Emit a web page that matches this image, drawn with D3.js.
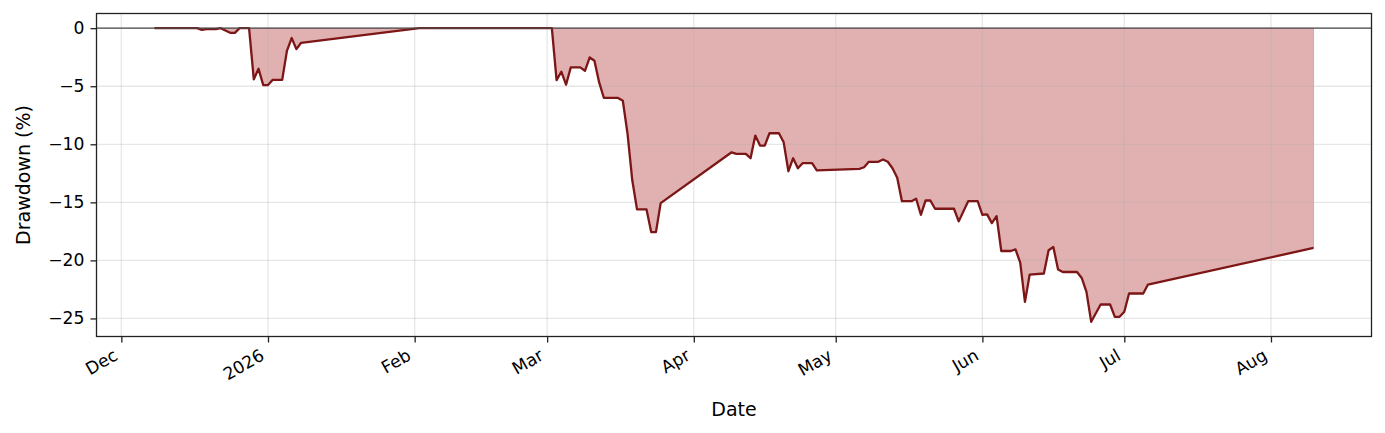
<!DOCTYPE html>
<html>
<head>
<meta charset="utf-8">
<script src="https://cdn.jsdelivr.net/npm/d3@7"></script>
<style>
body { margin: 0; background: #fff; }
text { font-family: "DejaVu Sans", sans-serif; fill: #000; }
</style>
</head>
<body>
<script>
// drawdown series
const dates = [
  "2025-12-08","2025-12-17","2025-12-18","2025-12-19","2025-12-21","2025-12-22","2025-12-24","2025-12-25","2025-12-26","2025-12-28",
  "2025-12-29","2025-12-30","2025-12-31","2026-01-01","2026-01-02","2026-01-04","2026-01-05","2026-01-06","2026-01-07","2026-01-08",
  "2026-02-02","2026-03-02","2026-03-03","2026-03-04","2026-03-05","2026-03-06","2026-03-08","2026-03-09","2026-03-10","2026-03-11",
  "2026-03-12","2026-03-13","2026-03-16","2026-03-17","2026-03-18","2026-03-19","2026-03-20","2026-03-22","2026-03-23","2026-03-24",
  "2026-03-25","2026-04-09","2026-04-10","2026-04-12","2026-04-13","2026-04-14","2026-04-15","2026-04-16","2026-04-17","2026-04-19",
  "2026-04-20","2026-04-21","2026-04-22","2026-04-23","2026-04-24","2026-04-26","2026-04-27","2026-05-06","2026-05-07","2026-05-08",
  "2026-05-10","2026-05-11","2026-05-12","2026-05-13","2026-05-14","2026-05-15","2026-05-17","2026-05-18","2026-05-19","2026-05-20",
  "2026-05-21","2026-05-22","2026-05-26","2026-05-27","2026-05-29","2026-05-31","2026-06-01","2026-06-02","2026-06-03","2026-06-04",
  "2026-06-05","2026-06-07","2026-06-08","2026-06-09","2026-06-10","2026-06-11","2026-06-14","2026-06-15","2026-06-16","2026-06-17",
  "2026-06-18","2026-06-21","2026-06-22","2026-06-23","2026-06-24","2026-06-26","2026-06-28","2026-06-29","2026-06-30","2026-07-01",
  "2026-07-02","2026-07-05","2026-07-06","2026-08-10"
];
const drawdown = [
  0, 0, -0.15, -0.08, -0.08, 0, -0.4, -0.4, 0, 0,
  -4.4, -3.5, -4.9, -4.9, -4.45, -4.45, -1.95, -0.85, -1.8, -1.26,
  0, 0, -4.47, -3.75, -4.87, -3.38, -3.38, -3.67, -2.52, -2.81,
  -4.67, -6.01, -6.01, -6.25, -9.1, -13.1, -15.6, -15.6, -17.56, -17.56,
  -15.07, -10.69, -10.83, -10.83, -11.2, -9.25, -10.11, -10.11, -9.05, -9.05,
  -9.83, -12.32, -11.2, -12.06, -11.63, -11.63, -12.25, -12.11, -11.98, -11.51,
  -11.51, -11.31, -11.5, -12.06, -12.89, -14.9, -14.9, -14.69, -16.07, -14.84,
  -14.84, -15.55, -15.55, -16.64, -14.9, -14.9, -16.07, -16.04, -16.79, -16.19,
  -19.19, -19.19, -19.05, -20.19, -23.57, -21.22, -21.13, -19.13, -18.85, -20.79,
  -21.0, -21.0, -21.51, -22.71, -25.29, -23.8, -23.8, -24.86, -24.86, -24.43,
  -22.85, -22.85, -22.08, -18.93
];

const monthTicks = ["2025-12-01","2026-01-01","2026-02-01","2026-03-01","2026-04-01","2026-05-01","2026-06-01","2026-07-01","2026-08-01"];
const monthLabels = ["Dec","2026","Feb","Mar","Apr","May","Jun","Jul","Aug"];
const yTicks = [0, -5, -10, -15, -20, -25];

const w = 1385;
const h = 433;
const pLeft = 96.5, pRight = 1371.5, pTop = 13.5, pBottom = 336.5;
const lineColor = '#7d1616';
const fillColor = '#aa1e1e';

const parse = d3.utcParse('%Y-%m-%d');
const data = dates.map((d, i) => ({ date: parse(d), dd: drawdown[i] }));

// matplotlib style 5% margins
const xExt = d3.extent(data, d => d.date);
const xPad = (xExt[1] - xExt[0]) * 0.05;
const xScale = d3.scaleUtc()
  .domain([new Date(+xExt[0] - xPad), new Date(+xExt[1] + xPad)])
  .range([pLeft, pRight]);
const yMin = Math.min(0, d3.min(drawdown)), yMax = Math.max(0, d3.max(drawdown));
const yPad = (yMax - yMin) * 0.05;
const yScale = d3.scaleLinear().domain([yMin - yPad, yMax + yPad]).range([pBottom, pTop]);

const svg = d3.select('body')
  .append('svg')
  .attr('width', w)
  .attr('height', h);

// fill under zero
const area = d3.area()
  .x(d => xScale(d.date))
  .y0(yScale(0))
  .y1(d => yScale(d.dd));
svg.append('path')
  .datum(data)
  .attr('d', area)
  .attr('fill', fillColor)
  .attr('fill-opacity', 0.35)
  .attr('stroke', fillColor)
  .attr('stroke-opacity', 0.25)
  .attr('stroke-width', 1);

// grid
const tickDates = monthTicks.map(parse);
svg.append('g').selectAll('line')
  .data(tickDates)
  .enter()
  .append('line')
  .attr('x1', d => xScale(d)).attr('x2', d => xScale(d))
  .attr('y1', pTop).attr('y2', pBottom)
  .attr('stroke', '#b0b0b0').attr('stroke-opacity', 0.3).attr('stroke-width', 1.3);
svg.append('g').selectAll('line')
  .data(yTicks)
  .enter()
  .append('line')
  .attr('x1', pLeft).attr('x2', pRight)
  .attr('y1', d => yScale(d)).attr('y2', d => yScale(d))
  .attr('stroke', '#b0b0b0').attr('stroke-opacity', 0.3).attr('stroke-width', 1.3);

// drawdown line
const line = d3.line()
  .x(d => xScale(d.date))
  .y(d => yScale(d.dd));
svg.append('path')
  .datum(data)
  .attr('d', line)
  .attr('fill', 'none')
  .attr('stroke', lineColor)
  .attr('stroke-width', 2.3)
  .attr('stroke-linejoin', 'round');

// zero line
svg.append('line')
  .attr('x1', pLeft).attr('x2', pRight)
  .attr('y1', yScale(0)).attr('y2', yScale(0))
  .attr('stroke', '#4a4a4a').attr('stroke-width', 1.3);

// axes
const x_axis = d3.axisBottom(xScale)
  .tickValues(tickDates)
  .tickFormat((d, i) => monthLabels[i])
  .tickSize(6)
  .tickPadding(0);
const gx = svg.append('g').attr('transform', `translate(0, ${pBottom})`).call(x_axis);
gx.select('.domain').remove();
gx.selectAll('.tick line').attr('stroke', '#222').attr('stroke-width', 1.3);
// rotated like autofmt_xdate: right edge of the rotated box at the tick
gx.selectAll('.tick text')
  .attr('y', 0).attr('dy', '0.76em')
  .attr('text-anchor', 'end')
  .attr('transform', 'translate(-9.5, 11) rotate(-30)')
  .style('font-size', '17.2px')
  .style('font-family', '"DejaVu Sans", sans-serif');

const y_axis = d3.axisLeft(yScale)
  .tickValues(yTicks)
  .tickFormat(d => d < 0 ? '\u2212' + Math.abs(d) : String(d))
  .tickSize(6)
  .tickPadding(6);
const gy = svg.append('g').attr('transform', `translate(${pLeft}, 0)`).call(y_axis);
gy.select('.domain').remove();
gy.selectAll('.tick line').attr('stroke', '#222').attr('stroke-width', 1.3);
gy.selectAll('.tick text')
  .style('font-size', '17.2px')
  .style('font-family', '"DejaVu Sans", sans-serif');

// frame
svg.append('rect')
  .attr('x', pLeft).attr('y', pTop)
  .attr('width', pRight - pLeft).attr('height', pBottom - pTop)
  .attr('fill', 'none')
  .attr('stroke', '#222').attr('stroke-width', 1.3);

// axis labels
svg.append('text')
  .text('Date')
  .attr('x', (pLeft + pRight) / 2)
  .attr('y', 416)
  .attr('text-anchor', 'middle')
  .style('font-size', '19px');
svg.append('text')
  .text('Drawdown (%)')
  .attr('transform', `translate(30.4, ${(pTop + pBottom) / 2}) rotate(-90)`)
  .attr('text-anchor', 'middle')
  .style('font-size', '19px');
</script>
</body>
</html>
